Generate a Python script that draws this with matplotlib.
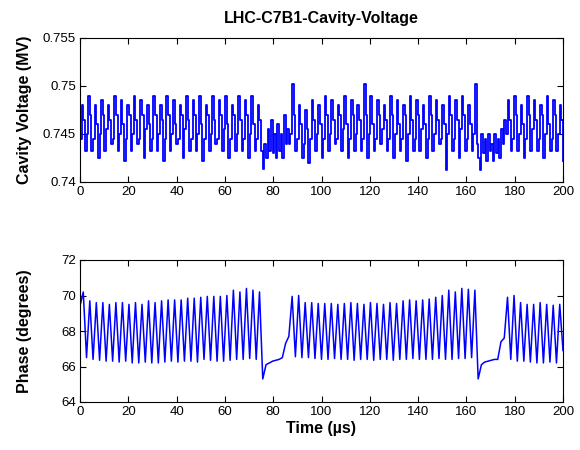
import numpy as np
import matplotlib
matplotlib.use("Agg")
import matplotlib.pyplot as plt

plt.rcParams["font.family"] = ["Liberation Sans", "DejaVu Sans"]

# ---- cavity voltage (MV), one row per RF ripple cycle ----
volt_train1 = [
    0.7445, 0.7480, 0.7465, 0.7432, 0.7450, 0.7490, 0.7470, 0.7432,
    0.7445, 0.7480, 0.7460, 0.7425, 0.7450, 0.7485, 0.7470, 0.7432,
    0.7455, 0.7480, 0.7465, 0.7440, 0.7445, 0.7490, 0.7470, 0.7432,
    0.7450, 0.7485, 0.7460, 0.7422, 0.7445, 0.7480, 0.7470, 0.7432,
    0.7450, 0.7490, 0.7465, 0.7440, 0.7445, 0.7485, 0.7470, 0.7425,
    0.7455, 0.7480, 0.7460, 0.7432, 0.7445, 0.7490, 0.7470, 0.7432,
    0.7450, 0.7480, 0.7465, 0.7422, 0.7445, 0.7490, 0.7470, 0.7432,
    0.7450, 0.7485, 0.7460, 0.7440, 0.7445, 0.7480, 0.7470, 0.7425,
    0.7455, 0.7490, 0.7465, 0.7432, 0.7445, 0.7485, 0.7470, 0.7432,
    0.7450, 0.7490, 0.7460, 0.7422, 0.7445, 0.7480, 0.7470, 0.7432,
    0.7450, 0.7490, 0.7465, 0.7440, 0.7445, 0.7485, 0.7470, 0.7432,
    0.7455, 0.7490, 0.7460, 0.7425, 0.7445, 0.7480, 0.7470, 0.7432,
    0.7450, 0.7490, 0.7465, 0.7432, 0.7445, 0.7485, 0.7470, 0.7425,
    0.7450, 0.7490, 0.7460, 0.7432, 0.7445, 0.7480, 0.7465, 0.7432,
]
volt_gap1 = [
    0.7414, 0.7440, 0.7425, 0.7455, 0.7432, 0.7465, 0.7430, 0.7450, 0.7425,
    0.7460, 0.7432, 0.7450, 0.7425, 0.7470, 0.7440, 0.7455, 0.7440,
]
volt_train2 = [
    0.7450, 0.7502, 0.7470, 0.7432, 0.7445, 0.7480, 0.7460, 0.7425,
    0.7440, 0.7475, 0.7455, 0.7420, 0.7445, 0.7485, 0.7465, 0.7432,
    0.7450, 0.7480, 0.7460, 0.7425, 0.7445, 0.7490, 0.7470, 0.7432,
    0.7450, 0.7485, 0.7465, 0.7440, 0.7445, 0.7480, 0.7470, 0.7432,
    0.7455, 0.7490, 0.7460, 0.7425, 0.7445, 0.7485, 0.7470, 0.7432,
    0.7450, 0.7480, 0.7465, 0.7432, 0.7445, 0.7502, 0.7470, 0.7425,
    0.7450, 0.7490, 0.7460, 0.7432, 0.7445, 0.7485, 0.7470, 0.7440,
    0.7455, 0.7480, 0.7465, 0.7432, 0.7445, 0.7490, 0.7470, 0.7425,
    0.7450, 0.7485, 0.7460, 0.7432, 0.7445, 0.7480, 0.7470, 0.7422,
    0.7450, 0.7490, 0.7465, 0.7432, 0.7445, 0.7485, 0.7470, 0.7432,
    0.7455, 0.7480, 0.7460, 0.7425, 0.7445, 0.7490, 0.7470, 0.7432,
    0.7450, 0.7485, 0.7465, 0.7440, 0.7445, 0.7480, 0.7460, 0.7412,
    0.7450, 0.7490, 0.7470, 0.7432, 0.7445, 0.7485, 0.7465, 0.7425,
    0.7455, 0.7490, 0.7470, 0.7432, 0.7445, 0.7480, 0.7460, 0.7432,
    0.7450, 0.7502,
]
volt_gap2 = [
    0.7440, 0.7425, 0.7412, 0.7450, 0.7430, 0.7445, 0.7422, 0.7450, 0.7432,
    0.7440, 0.7422, 0.7450, 0.7430, 0.7445, 0.7425, 0.7455, 0.7440, 0.7465,
]
volt_train3 = [
    0.7450, 0.7485, 0.7465, 0.7432, 0.7445, 0.7490, 0.7470, 0.7432,
    0.7450, 0.7480, 0.7460, 0.7425, 0.7445, 0.7490, 0.7470, 0.7432,
    0.7455, 0.7485, 0.7465, 0.7432, 0.7445, 0.7480, 0.7470, 0.7425,
    0.7450, 0.7490, 0.7460, 0.7432, 0.7445, 0.7485, 0.7470, 0.7432,
    0.7450, 0.7480, 0.7465, 0.7422,
]

# ---- phase (degrees): peaks / troughs of each bunch train, and the gaps ----
phase_start = 69.4
phase_peaks1 = [70.2, 69.7, 69.6, 69.6, 69.5, 69.6, 69.6, 69.5, 69.6, 69.5,
                69.7, 69.6, 69.7, 69.75, 69.75, 69.75, 69.85, 69.85, 69.9, 69.95,
                69.95, 69.95, 70.0, 70.3, 70.2, 70.4, 70.3, 70.2]
phase_troughs1 = [66.5, 66.4, 66.35, 66.3, 66.3, 66.25, 66.3, 66.2, 66.2, 66.25,
                  66.2, 66.2, 66.25, 66.3, 66.25, 66.3, 66.3, 66.25, 66.4, 66.35,
                  66.3, 66.3, 66.35, 66.4, 66.4, 66.45, 66.4]
phase_gap1 = [65.3, 66.1, 66.2, 66.3, 66.35, 66.4, 66.5, 67.3, 67.7]
phase_peaks2 = [69.95, 70.0, 69.6, 69.6, 69.55, 69.55, 69.55, 69.5, 69.55, 69.6,
                69.55, 69.5, 69.6, 69.55, 69.5, 69.6, 69.55, 69.7, 69.75, 69.7,
                69.75, 69.8, 69.9, 70.0, 70.3, 70.2, 70.4, 70.35, 70.3]
phase_troughs2 = [66.55, 66.5, 66.5, 66.45, 66.4, 66.4, 66.45, 66.4, 66.4, 66.35,
                  66.4, 66.4, 66.35, 66.4, 66.4, 66.35, 66.4, 66.4, 66.45, 66.4,
                  66.4, 66.4, 66.45, 66.4, 66.4, 66.45, 66.45, 66.5]
phase_gap2 = [65.3, 66.1, 66.25, 66.3, 66.35, 66.4, 66.4, 67.4, 67.6]
phase_peaks3 = [69.9, 70.0, 69.6, 69.5, 69.5, 69.6, 69.5, 69.45, 69.5]
phase_troughs3 = [66.4, 66.3, 66.3, 66.25, 66.2, 66.2, 66.25, 66.2, 66.9]

x_ticks = list(range(0, 201, 20))
volt_ticks = [0.74, 0.745, 0.75, 0.755]
volt_tick_labels = ["0.74", "0.745", "0.75", "0.755"]
phase_ticks = [64, 66, 68, 70, 72]


def interleave(peaks, troughs):
    out = []
    for k, p in enumerate(peaks):
        out.append(p)
        if k < len(troughs):
            out.append(troughs[k])
    return out


def style_axes(ax):
    for side in ax.spines.values():
        side.set_color("black")
        side.set_linewidth(0.8)
    ax.tick_params(direction="in", length=4, width=0.8, top=True, right=True,
                   labelsize=9.5, colors="black", pad=3)


voltage = volt_train1 + volt_gap1 + volt_train2 + volt_gap2 + volt_train3
phase = ([phase_start] + interleave(phase_peaks1, phase_troughs1) + phase_gap1
         + interleave(phase_peaks2, phase_troughs2) + phase_gap2
         + interleave(phase_peaks3, phase_troughs3))

t_volt = np.linspace(0, 200, len(voltage))
t_phase = np.linspace(0, 200, len(phase))

fig = plt.figure(figsize=(5.8, 4.5), dpi=100)
ax1 = fig.add_axes([80 / 580, 1 - 182 / 450, 483 / 580, 144 / 450])
ax2 = fig.add_axes([80 / 580, 1 - 402 / 450, 483 / 580, 142 / 450])

# the voltage readback is quantised, so draw it as steps
ax1.plot(t_volt, voltage, color=(0, 0, 1), linewidth=1.3, drawstyle="steps-post")
ax1.set_xlim(0, 200)
ax1.set_ylim(0.74, 0.755)
ax1.set_xticks(x_ticks)
ax1.set_yticks(volt_ticks)
ax1.set_yticklabels(volt_tick_labels)
ax1.set_title("LHC-C7B1-Cavity-Voltage", fontsize=11.5, fontweight="bold", pad=11)
ax1.set_ylabel("Cavity Voltage (MV)", fontsize=11.5, fontweight="bold")
ax1.yaxis.set_label_coords(-0.1, 0.5)
style_axes(ax1)

ax2.plot(t_phase, phase, color=(0, 0, 1), linewidth=1.1)
ax2.set_xlim(0, 200)
ax2.set_ylim(64, 72)
ax2.set_xticks(x_ticks)
ax2.set_yticks(phase_ticks)
ax2.set_xlabel("Time (\u00b5s)", fontsize=11.5, fontweight="bold", labelpad=2)
ax2.set_ylabel("Phase (degrees)", fontsize=11.5, fontweight="bold")
ax2.yaxis.set_label_coords(-0.1, 0.5)
style_axes(ax2)

fig.savefig("out.png", dpi=100, facecolor="white")
